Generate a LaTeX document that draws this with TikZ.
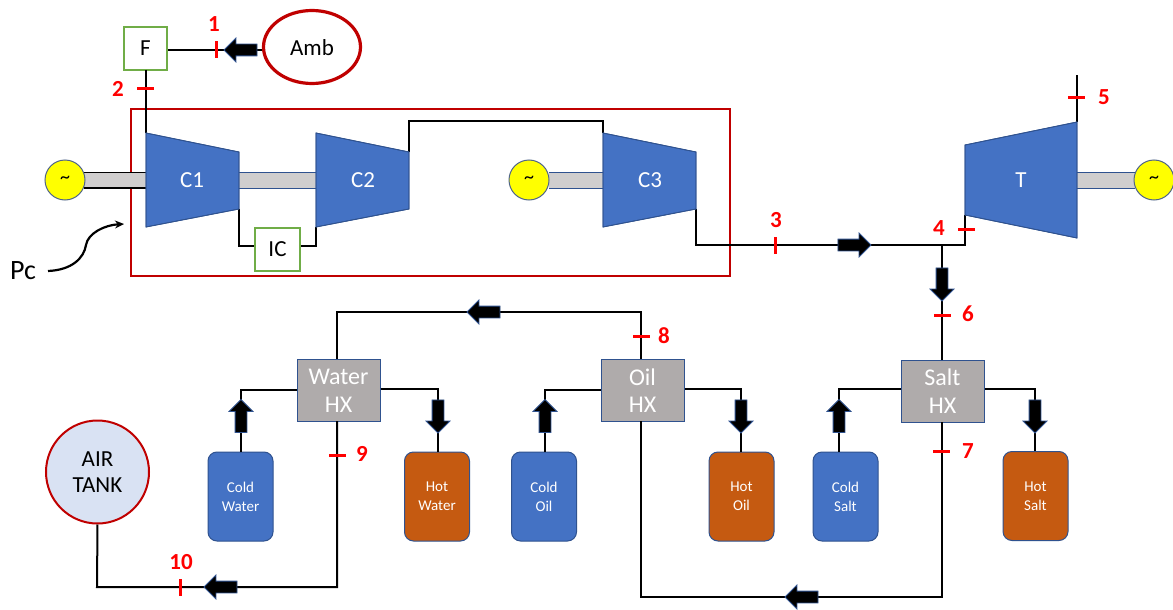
\documentclass[tikz,border=0pt]{standalone}
\usepackage{fontspec}
\setmainfont{Carlito}
\usetikzlibrary{shapes.arrows,shapes.geometric,arrows.meta}
\definecolor{cblue}{HTML}{4472C4}
\definecolor{cedge}{HTML}{2F528F}
\definecolor{corange}{HTML}{C55A11}
\definecolor{cgreen}{HTML}{70AD47}
\definecolor{cdred}{HTML}{C00000}
\definecolor{cgrey}{HTML}{AFABAB}
\definecolor{cshaft}{HTML}{D0CECE}
\definecolor{ctank}{HTML}{D9E2F3}
\definecolor{cyel}{HTML}{FFFF00}
\newcommand{\fs}[1]{\fontsize{#1}{#1}\selectfont}
\tikzset{
 pipe/.style={draw=black,line width=2pt,line join=miter},
 greenbox/.style={draw=cgreen,line width=2pt,fill=white,minimum width=43pt,minimum height=43pt,inner sep=0pt,font=\fs{23}},
 hx/.style={draw=cedge,line width=1pt,fill=cgrey,text=white,minimum width=83pt,minimum height=62pt,inner sep=0pt,align=center,font=\fs{24}\linespread{1.15}\selectfont},
 tankbox/.style={draw=cedge,line width=1pt,rounded corners=9pt,minimum width=65pt,minimum height=89pt,inner sep=0pt,text=white,align=center,font=\fs{15}\linespread{1.25}\selectfont},
 coldtank/.style={tankbox,fill=cblue},
 hottank/.style={tankbox,fill=corange},
 gen/.style={circle,draw=cedge!60!gray,line width=1pt,fill=cyel,minimum size=40pt,inner sep=0pt,font=\fs{20}},
 machine/.style={fill=cblue,draw=cedge,line width=.8pt},
 mlabel/.style={text=white,font=\fs{23},inner sep=0pt},
 shaftk/.style={fill=cshaft,draw=none},
 flow/.style={single arrow,draw=cedge,line width=.8pt,fill=black,minimum height=33pt,minimum width=23pt,single arrow head extend=6pt,single arrow tip angle=90,single arrow head indent=0pt,inner sep=0pt,outer sep=0pt,text height=5.5pt,text depth=5.5pt,text width=1pt},
 tickh/.style={fill=red,draw=none,minimum width=17pt,minimum height=3pt,inner sep=0pt,outer sep=0pt},
 tickv/.style={fill=red,draw=none,minimum width=3pt,minimum height=17pt,inner sep=0pt,outer sep=0pt},
 num/.style={text=red,font=\fs{23}\bfseries,inner sep=0pt},
}
\begin{document}
\begin{tikzpicture}[x=1pt,y=-1pt]
\useasboundingbox (0,0) rectangle (1173,610);
\fill[white] (0,0) rectangle (1173,610);
% package frame
\node[draw=cdred,line width=2pt,minimum width=599pt,minimum height=167pt,inner sep=0pt] (pack) at (430.5,192.5) {};
% shafts
\fill[shaftk] (84,172) rectangle (146,188);
\draw[black,line width=1.2pt] (84,172.5) -- (146,172.5) (84,188) -- (146,188);
\fill[shaftk] (239,173) rectangle (316,188);
\draw[cedge,line width=1pt] (239,172.5) -- (316,172.5) (239,188) -- (316,188);
\fill[shaftk] (549,173) rectangle (603,188);
\draw[cedge,line width=1pt] (549,172.5) -- (603,172.5) (549,188) -- (603,188);
\fill[shaftk] (1077,173) rectangle (1135,188);
\draw[cedge,line width=1pt] (1077,172.5) -- (1135,172.5) (1077,188) -- (1135,188);
% machine corners
\coordinate (c1a) at (146,133); \coordinate (c1b) at (239,152); \coordinate (c1c) at (239,209); \coordinate (c1d) at (146,227);
\coordinate (c2a) at (316,133); \coordinate (c2b) at (409,152); \coordinate (c2c) at (409,209); \coordinate (c2d) at (316,227);
\coordinate (c3a) at (603,133); \coordinate (c3b) at (696,152); \coordinate (c3c) at (696,209); \coordinate (c3d) at (603,227);
\coordinate (ta) at (965,145); \coordinate (tb) at (1077,122); \coordinate (tc) at (1077,238); \coordinate (td) at (965,215);
% nodes
\node[greenbox] (F) at (145.5,48.5) {F};
\node[greenbox,minimum width=45pt] (IC) at (277.5,249.5) {IC};
\node[ellipse,draw=cdred,line width=3.2pt,minimum width=97pt,minimum height=73pt,inner sep=0pt] (Amb) at (312,47) {};
\node[font=\fs{23},inner sep=0pt] (Ambt) at (312,48) {Amb};
\node[hx] (WHX) at (338.5,390.5) {Water\\HX};
\node[hx] (OHX) at (642.5,390.5) {Oil\\HX};
\node[hx] (SHX) at (942.5,391) {Salt\\HX};
\node[coldtank] (CW) at (240.5,496.5) {Cold\\Water};
\node[hottank] (HW) at (437,496.5) {Hot\\Water};
\node[coldtank] (CO) at (544,496.5) {Cold\\Oil};
\node[hottank] (HO) at (741.5,496.5) {Hot\\Oil};
\node[coldtank] (CS) at (845.5,496.5) {Cold\\Salt};
\node[hottank] (HS) at (1035.5,496) {Hot\\Salt};
\node[circle,draw=cdred,line width=2pt,fill=ctank,minimum size=103pt,inner sep=0pt,align=center,font=\fs{23}\linespread{1.15}\selectfont] (AT) at (97.5,472) {AIR\\TANK};
\coordinate (end5) at (1077,75);
\coordinate (j1) at (942,245);
% pipes
\draw[pipe] (F.east |- 0,50) -- (Amb.west |- 0,50);
\draw[pipe] (146,70) -- (c1a);
\draw[pipe] (c1c) |- (IC.west |- 0,246);
\draw[pipe] (IC.east |- 0,246) -| (c2d);
\draw[pipe] (c2b) -- (409,120.5) -- (603,120.5) -- (c3a);
\draw[pipe] (c3c) -- (696,245) -- (j1) -- (td |- j1) -- (td);
\draw[pipe] (tb) -- (end5);
\draw[pipe] (j1) -- (j1 |- SHX.north);
\draw[pipe] (337,359) -- (337,312) -- (641,312) -- (641,359);
\draw[pipe] (WHX.west |- 0,390) -| (241,452);
\draw[pipe] (WHX.east |- 0,389) -| (438,452);
\draw[pipe] (OHX.west |- 0,390) -| (545,452);
\draw[pipe] (OHX.east |- 0,389) -| (741,452);
\draw[pipe] (SHX.west |- 0,389) -| (839,452);
\draw[pipe] (SHX.east |- 0,389) -| (1035,451);
\draw[pipe] (337,421) -- (337,587) -- (97,587) -- (AT.south);
\draw[pipe] (641,421) -- (641,597) -- (942,597) -- (942,422);
% machines
\fill[machine] (c1a) -- (c1b) -- (c1c) -- (c1d) -- cycle;
\fill[machine] (c2a) -- (c2b) -- (c2c) -- (c2d) -- cycle;
\fill[machine] (c3a) -- (c3b) -- (c3c) -- (c3d) -- cycle;
\fill[machine] (ta) -- (tb) -- (tc) -- (td) -- cycle;
\draw[cedge,line width=.8pt] (c1a) -- (c1b) -- (c1c) -- (c1d) -- cycle (c2a) -- (c2b) -- (c2c) -- (c2d) -- cycle (c3a) -- (c3b) -- (c3c) -- (c3d) -- cycle (ta) -- (tb) -- (tc) -- (td) -- cycle;
\node[mlabel] (C1) at (192,180) {C1};
\node[mlabel] (C2) at (363,180) {C2};
\node[mlabel] (C3) at (650,180) {C3};
\node[mlabel] (T) at (1021,180) {T};
% generators
\node[gen] (G1) at (65,180) {\textasciitilde};
\node[gen] (G2) at (529,180) {\textasciitilde};
\node[gen] (G3) at (1154,180) {\textasciitilde};
% flow arrows
\node[flow,rotate=180] (a1) at (243.5,50) {};
\node[flow] (a3) at (851.5,245) {};
\node[flow,rotate=-90] (a6) at (942,281.5) {};
\node[flow,rotate=180] (a8) at (486.5,312) {};
\node[flow,rotate=90] (a9) at (241,419) {};
\node[flow,rotate=-90] (a10) at (438,413.5) {};
\node[flow,rotate=90] (a11) at (545,419) {};
\node[flow,rotate=-90] (a12) at (741,413.5) {};
\node[flow,rotate=90] (a13) at (839,419) {};
\node[flow,rotate=-90] (a14) at (1035,413.5) {};
\node[flow,rotate=180] (a15) at (223.5,587) {};
\node[flow,rotate=180] (a16) at (804.5,597) {};
% ticks
\node[tickv] (t1) at (216,50) {};
\node[tickh] (t2) at (145,89) {};
\node[tickv] (t3) at (775,245) {};
\node[tickh] (t4) at (966,229) {};
\node[tickh] (t5) at (1076,97) {};
\node[tickh] (t6) at (942,315) {};
\node[tickh] (t7) at (941.5,451) {};
\node[tickh] (t8) at (641.5,336) {};
\node[tickh] (t9) at (337.5,455) {};
\node[tickv] (t10) at (180,587) {};
% numbers
\node[num] (n1) at (214,24) {1};
\node[num] (n2) at (118,89) {2};
\node[num] (n3) at (776,220) {3};
\node[num] (n4) at (939,228) {4};
\node[num] (n5) at (1104,97) {5};
\node[num] (n6) at (968,314) {6};
\node[num] (n7) at (968,451) {7};
\node[num] (n8) at (664,336) {8};
\node[num] (n9) at (362,454) {9};
\node[num] (n10) at (181,562) {10};
% Pc
\node[font=\fs{28},inner sep=0pt] (Pc) at (23,271) {Pc};
\coordinate (pctip) at (124,224);
\draw[black,line width=2.2pt,-{Stealth[length=9pt,width=8pt]}] (48,271) .. controls (72,270) and (84,258) .. (86,245) .. controls (88,233) and (105,225) .. (pctip);
\end{tikzpicture}
\end{document}
